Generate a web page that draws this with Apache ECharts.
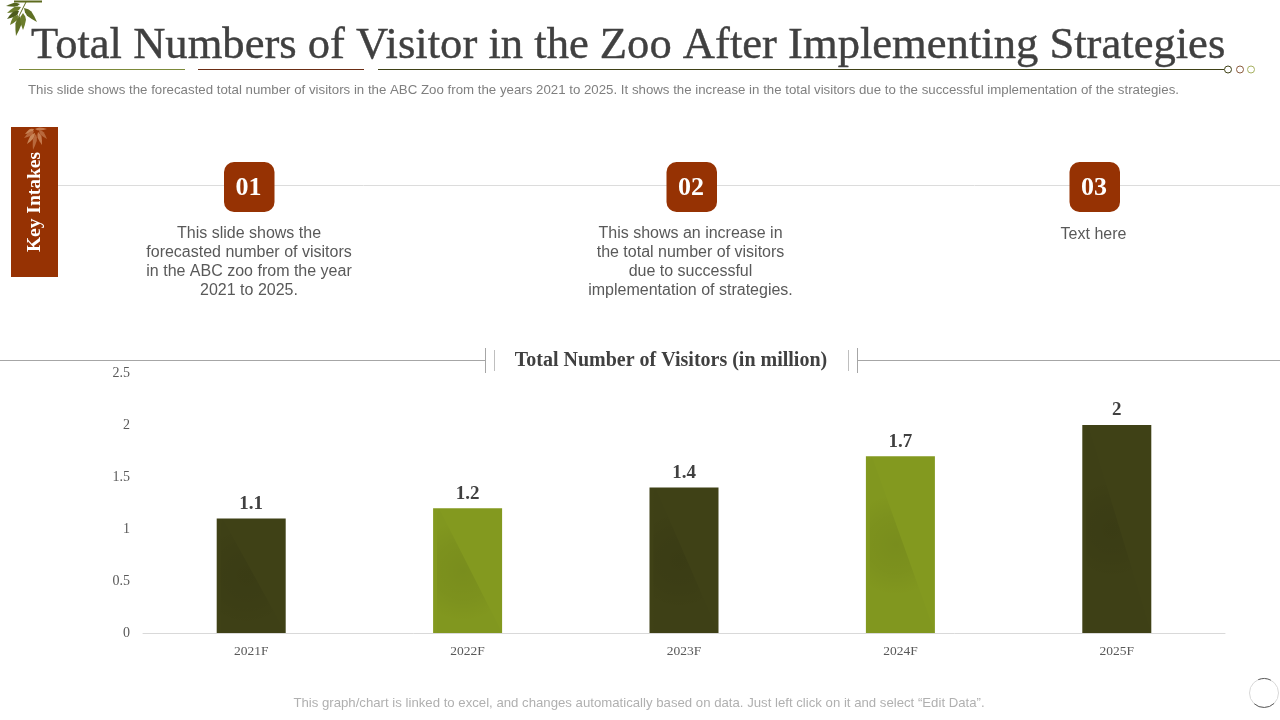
<!DOCTYPE html>
<html lang="en">
<head>
    <meta charset="UTF-8">
    <title>Total Numbers of Visitor in the Zoo</title>
    <style>
        html, body { margin: 0; padding: 0; background: #fff; }
        .box { width: 1280px; height: 720px; }
    </style>
</head>
<body>
    <div class="box"></div>
    <script src="https://cdn.jsdelivr.net/npm/echarts@6/dist/echarts.min.js"></script>
    <script>
        var categories = ['2021F', '2022F', '2023F', '2024F', '2025F'];
        var visitors = [1.1, 1.2, 1.4, 1.7, 2];
        var barColors = ['#3f4116', '#83991f', '#3f4116', '#83991f', '#3f4116'];
        var intakeNumbers = ['01', '02', '03'];
        var intakeTexts = [
            'This slide shows the\nforecasted number of visitors\nin the ABC zoo from the year\n2021 to 2025.',
            'This shows an increase in\nthe total number of visitors\ndue to successful\nimplementation of strategies.',
            'Text here'
        ];

        var serif = '"Liberation Serif", serif';
        var sans = '"Liberation Sans", Arial, sans-serif';
        var myChart = echarts.init(document.getElementsByClassName('box')[0]);

        function text(x, y, str, size, color, extra) {
            var style = { x: x, y: y, text: str, fontSize: size, fill: color, fontFamily: sans, align: 'center', verticalAlign: 'middle' };
            for (var k in (extra || {})) style[k] = extra[k];
            return { type: 'text', silent: true, style: style };
        }
        function line(x1, y1, x2, y2, color, width) {
            return { type: 'line', silent: true, shape: { x1: x1, y1: y1, x2: x2, y2: y2 }, style: { stroke: color, lineWidth: width || 1 } };
        }
        function ring(x, y, r, color) {
            return { type: 'circle', silent: true, shape: { cx: x, cy: y, r: r }, style: { fill: 'none', stroke: color, lineWidth: 1 } };
        }
        // one leaf as a small polygon, from its stem end to its tip
        function leaf(x1, y1, x2, y2, wid, color) {
            var dx = x2 - x1, dy = y2 - y1;
            var len = Math.sqrt(dx * dx + dy * dy);
            var nx = -dy / len * wid, ny = dx / len * wid;
            var pts = [];
            [[0, 0], [0.2, 0.75], [0.4, 1], [0.7, 0.6], [1, 0], [0.7, -0.6], [0.4, -1], [0.2, -0.75]].forEach(function (p) {
                pts.push([x1 + dx * p[0] + nx * p[1], y1 + dy * p[0] + ny * p[1]]);
            });
            return { type: 'polygon', silent: true, shape: { points: pts }, style: { fill: color } };
        }

        var graphics = [
            text(31, 46, 'Total Numbers of Visitor in the Zoo After Implementing Strategies', 44.6, '#404040', { fontFamily: serif, align: 'left', stroke: '#404040', lineWidth: 0.4 }),
            line(19, 69.5, 185, 69.5, '#7d8a3a'),
            line(198, 69.5, 364, 69.5, '#6b2d14'),
            line(378, 69.5, 1224, 69.5, '#3f4116'),
            ring(1228, 69.5, 3.5, '#3f4116'),
            ring(1240, 69.5, 3.5, '#8a5a3c'),
            ring(1251, 69.5, 3.5, '#a5b060'),
            text(28, 90.5, 'This slide shows the forecasted total number of visitors in the ABC Zoo from the years 2021 to 2025. It shows the increase in the total visitors due to the successful implementation of the strategies.', 13.27, '#7f7f7f', { align: 'left' }),
            // twig and leaves in the corner
            line(14, 1.5, 42, 1.5, '#5d6b1e', 2),
            line(26, 2, 17, 20, '#5d6b1e', 1),
            leaf(20, 4, 6, 6, 2, '#55661f'),
            leaf(21, 7, 7, 13, 2.5, '#6b7d2b'),
            leaf(19, 11, 7, 19, 2.5, '#4d5c1c'),
            leaf(18, 15, 10, 25, 2.5, '#6b7d2b'),
            leaf(20, 16, 16, 36, 3, '#5f7024'),
            leaf(23, 13, 23, 30, 3, '#6b7d2b'),
            leaf(24, 8, 37, 22, 3, '#5f7024'),
            // key intakes strip
            line(58, 185.5, 1280, 185.5, '#dcdcdc'),
            { type: 'rect', silent: true, shape: { x: 11, y: 127, width: 47, height: 150 }, style: { fill: '#963203' } },
            leaf(35, 129, 47, 129, 1.5, '#c57a4e'),
            leaf(34, 129, 25, 134, 2, '#c98658'),
            leaf(34, 131, 24, 138, 2, '#b8683c'),
            leaf(35, 133, 27, 144, 2, '#c98658'),
            leaf(36, 134, 33, 150, 2, '#b8683c'),
            leaf(38, 132, 42, 145, 2, '#c57a4e'),
            leaf(39, 130, 47, 139, 2, '#b8683c'),
            {
                type: 'text', silent: true, x: 35, y: 202, rotation: Math.PI / 2,
                style: { text: 'Key Intakes', fontSize: 19.5, fontWeight: 'bold', fontFamily: serif, fill: '#fff', align: 'center', verticalAlign: 'middle' }
            },
            // chart heading
            line(0, 360.5, 485, 360.5, '#a6a6a6'),
            line(485.5, 348, 485.5, 373, '#a6a6a6'),
            line(494.5, 350, 494.5, 371, '#bfbfbf'),
            line(848.5, 350, 848.5, 371, '#bfbfbf'),
            line(857.5, 348, 857.5, 373, '#a6a6a6'),
            line(857, 360.5, 1280, 360.5, '#a6a6a6'),
            text(671, 361, 'Total Number of Visitors (in million)', 20, '#404040', { fontFamily: serif, fontWeight: 'bold' }),
            // footer
            text(639, 703.5, 'This graph/chart is linked to excel, and changes automatically based on data. Just left click on it and select \u201cEdit Data\u201d.', 13.2, '#b0b0b0'),
            ring(1264, 693, 14.5, '#d8d8d8'),
            {
                type: 'arc', silent: true, shape: { cx: 1264, cy: 693, r: 14.5, startAngle: 0.8, endAngle: 2.3 },
                style: { fill: 'none', stroke: '#606060', lineWidth: 1 }
            },
            {
                type: 'arc', silent: true, shape: { cx: 1264, cy: 693, r: 14.5, startAngle: 4.3, endAngle: 5.2 },
                style: { fill: 'none', stroke: '#606060', lineWidth: 1 }
            }
        ];

        var badgeX = [249, 691.5, 1094.5];
        var paragraphX = [249, 690.5, 1093.5];
        var paragraphY = [262, 262, 235];
        intakeNumbers.forEach(function (num, i) {
            graphics.push({
                type: 'rect', silent: true,
                shape: { x: badgeX[i] - 25, y: 162, width: 50.5, height: 50, r: 10 },
                style: { fill: '#963203' }
            });
            graphics.push(text(badgeX[i] - 0.5, 188, num, 26, '#fff', { fontFamily: serif, fontWeight: 'bold' }));
            graphics.push(text(paragraphX[i], paragraphY[i], intakeTexts[i], 16, '#595959', { lineHeight: 19 }));
        });

        // soft darker diagonal sheen on the lower left of each bar
        function renderSheen(params, api) {
            var top = api.coord([api.value(0), api.value(1)]);
            var bottom = api.coord([api.value(0), 0]);
            var half = api.size([1, 0])[0] * 0.16;
            return {
                type: 'polygon',
                shape: { points: [[top[0] - half + 6, top[1]], [top[0] + half, bottom[1]], [top[0] - half + 4, bottom[1]], [top[0] - half + 4, top[1] + 6]] },
                style: {
                    fill: new echarts.graphic.RadialGradient(0.4, 0.5, 0.75, [
                        { offset: 0, color: 'rgba(0,0,0,0.08)' },
                        { offset: 0.6, color: 'rgba(0,0,0,0.05)' },
                        { offset: 1, color: 'rgba(0,0,0,0.015)' }
                    ])
                }
            };
        }

        myChart.setOption({
            animation: false,
            graphic: graphics,
            grid: { left: 143, right: 55, top: 373, height: 260 },
            xAxis: {
                type: 'category',
                data: categories,
                axisTick: { show: false },
                axisLine: { lineStyle: { color: '#d9d9d9' } },
                axisLabel: { color: '#595959', fontFamily: serif, fontSize: 13.5, margin: 11 }
            },
            yAxis: {
                type: 'value',
                min: 0,
                max: 2.5,
                interval: 0.5,
                splitLine: { show: false },
                axisLabel: { color: '#595959', fontFamily: serif, fontSize: 14, margin: 13 }
            },
            series: [{
                type: 'bar',
                barWidth: 69,
                data: visitors.map(function (v, i) {
                    return { value: v, itemStyle: { color: barColors[i] } };
                }),
                label: {
                    show: true,
                    position: 'top',
                    distance: 5,
                    color: '#404040',
                    fontFamily: serif,
                    fontWeight: 'bold',
                    fontSize: 19
                }
            }, {
                type: 'custom',
                silent: true,
                renderItem: renderSheen,
                encode: { x: 0, y: 1 },
                data: visitors.map(function (v, i) { return [i, v]; }),
                z: 3
            }]
        });
    </script>
</body>
</html>
